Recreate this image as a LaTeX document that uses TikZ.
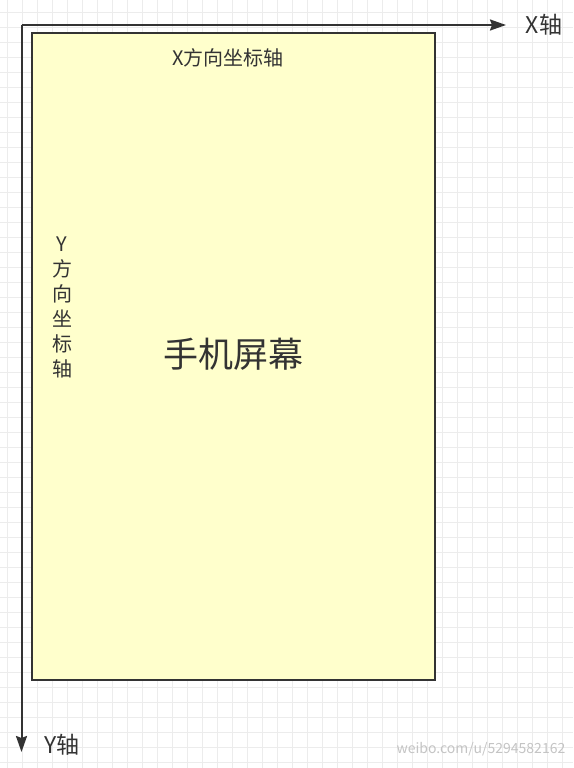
\documentclass[tikz,border=0pt]{standalone}
\usepackage{fontspec}
\setmainfont{Noto Sans CJK SC}
\usepackage{xcolor}
\usetikzlibrary{arrows.meta}

\definecolor{screenfill}{HTML}{FFFFCC}
\definecolor{inkgray}{HTML}{333333}
\definecolor{gridgray}{HTML}{ECECEC}
\definecolor{markgray}{HTML}{C4C4C4}

\begin{document}
\begin{tikzpicture}[x=1pt,y=-1pt,>={Stealth[length=16pt,width=11pt,inset=2pt]},
  gridline/.style={color=gridgray,line width=0.8pt},
  axisline/.style={color=inkgray,line width=2pt,->},
  axislabel/.style={text=inkgray,inner sep=0pt,font=\fontsize{23}{26}\selectfont},
  screenbox/.style={draw=inkgray,fill=screenfill,line width=2pt,inner sep=0pt,minimum width=403pt,minimum height=647pt},
  boxlabel/.style={text=inkgray,inner sep=0pt,font=\fontsize{20}{25}\selectfont}]

\useasboundingbox (0,0) rectangle (573,768);

% background grid
\fill[white] (0,0) rectangle (573,768);
\foreach \gx in {7,22,...,572}{
  \draw[gridline] (\gx,0) -- (\gx,768);
}
\foreach \gy in {12,27,...,762}{
  \draw[gridline] (0,\gy) -- (573,\gy);
}

% axes
\coordinate (origin) at (21.5,25);
\coordinate (xend) at (506,25);
\coordinate (yend) at (21.5,752);
\draw[axisline] (origin) -- (xend);
\draw[axisline] (origin) -- (yend);

\node[axislabel] (xaxis) at (544,25) {X轴};
\node[axislabel] (yaxis) at (62,745) {Y轴};

% screen
\node[screenbox] (screen) at (233.5,356.5) {};
\node[text=inkgray,inner sep=0pt,font=\fontsize{35}{40}\selectfont] (screenlabel) at (233.5,354.5) {手机屏幕};

\node[boxlabel] (xdir) at (228,58) {X方向坐标轴};
\node[boxlabel,align=center] (ydir) at (62,307.5) {Y\\方\\向\\坐\\标\\轴};

% watermark
\node[text=markgray,inner sep=0pt,font=\fontsize{14}{16}\selectfont] (mark) at (481,749) {weibo.com/u/5294582162};

\end{tikzpicture}
\end{document}
